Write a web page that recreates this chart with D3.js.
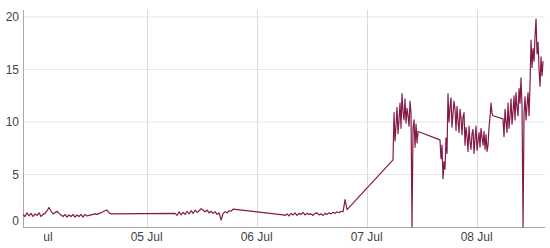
<!DOCTYPE html>
<html>
<head>
<meta charset="utf-8">
<script src="https://cdn.jsdelivr.net/npm/d3@7"></script>
<style>
  body { margin: 0; background: #fff; }
  svg { display: block; font-family: "Liberation Sans", Arial, sans-serif; }
</style>
</head>
<body>
<svg id="chart" width="550" height="248"></svg>
<script>
'use strict';

// sampled readings, hours are counted from 04 Jul 00:00
var segStartHours = [-2.99, 30.19, 53.74, 77.74, 87.99, 101.74];
var segStepMinutes = [26.2, 26.2, 26.2, 13.1, 13.1, 13.1];

var seg04Jul = [1.2, 1.0, 1.35, 1.05, 1.3, 1.0, 1.25, 1.1, 1.35, 1.0, 1.2,
  1.3, 1.55, 1.85, 1.5, 1.25, 1.35, 1.5, 1.3, 1.15,
  1.0, 1.2, 0.95, 1.15, 1.0, 1.2, 0.95, 1.15, 1.0, 1.2, 0.95, 1.2, 1.05,
  1.1, 1.15, 1.2, 1.25, 1.2, 1.3, 1.35, 1.45, 1.55, 1.6, 1.35, 1.25];
var seg05Jul = [1.3, 1.1, 1.45, 1.15, 1.4, 1.2, 1.5, 1.25, 1.55, 1.3, 1.6, 1.4,
  1.55, 1.75, 1.6, 1.45, 1.6, 1.35, 1.5, 1.3, 1.45, 1.2, 1.35, 0.65, 1.3, 1.45,
  1.35, 1.55, 1.5, 1.7];
var seg06Jul = [1.15, 1.1, 1.25, 1.05, 1.3, 1.15, 1.35, 1.1, 1.3, 1.2, 1.4, 1.15,
  1.3, 1.2, 1.25, 1.1, 1.3, 1.35, 1.15, 1.25, 1.1, 1.3, 1.2, 1.35, 1.25, 1.4,
  1.3, 1.45, 1.35, 1.5, 1.45, 2.6, 1.65];
var seg07Jul = [6.4, 10.9, 8.2, 9.6, 11.4, 8.9, 10.2, 11.8, 9.4, 12.7, 11.0, 10.2,
  12.2, 9.9, 11.3, 10.6, 9.6, 12.0, 10.8, 0, 9.4, 10.2, 7.6, 9.8, 8.0, 9.1];
var seg07JulLate = [8.3, 6.5, 7.8, 4.6, 6.2, 5.5, 8.5, 7.0,
  12.7, 10.0, 11.4, 12.3, 9.5, 10.8, 12.0, 11.2, 9.2, 11.5, 10.1, 9.0, 11.2,
  10.4, 8.8, 10.5, 10.9,
  7.8, 9.5, 8.6, 7.2, 9.6, 8.1, 7.4, 8.9, 9.3, 7.0, 8.4, 9.6, 7.3, 8.2, 9.0,
  7.6, 9.4, 8.5, 7.8, 9.1, 7.4, 8.8, 7.2,
  7.8, 9.5, 10.5, 11.8, 10.8, 10.6];
var seg08Jul = [10.3, 8.6, 11.2, 10.0, 9.0, 11.8, 9.4, 10.6, 12.2, 9.8,
  11.0, 12.5, 10.2, 12.8, 11.4, 10.6, 13.2, 11.8, 14.2, 11.5,
  0, 10.8, 12.4, 10.2, 11.6, 12.8, 10.6, 13.6,
  17.8, 15.2, 17.0, 15.8, 18.2, 19.8, 16.5, 17.6, 15.0, 13.4, 16.2, 14.4, 15.8];

var yTicks = [0, 5, 10, 15, 20];
var dayTicks = ['2021-07-04', '2021-07-05', '2021-07-06', '2021-07-07', '2021-07-08'];

var segments = [seg04Jul, seg05Jul, seg06Jul, seg07Jul, seg07JulLate, seg08Jul];
var base = Date.UTC(2021, 6, 4);
var points = [];
segments.forEach(function(vals, s) {
  vals.forEach(function(v, i) {
    var hrs = segStartHours[s] + i * segStepMinutes[s] / 60;
    points.push({ t: new Date(base + hrs * 3600e3), v: v });
  });
});

var plotLeft = 23, plotRight = 545, plotTop = 10, plotBottom = 227;
var svg = d3.select('#chart');

var x = d3.scaleUtc()
  .domain([new Date(base - 2.99 * 3600e3), new Date(base + 110.9 * 3600e3)])
  .range([plotLeft, plotRight]);
var y = d3.scaleLinear().domain([0, 20.67]).range([plotBottom, plotTop]);

// horizontal grid
svg.append('g').selectAll('line')
  .data(yTicks.filter(function(d) { return d > 0; }))
  .join('line')
  .attr('x1', plotLeft).attr('x2', plotRight)
  .attr('y1', function(d) { return y(d); }).attr('y2', function(d) { return y(d); })
  .attr('stroke', '#e6e6e6').attr('stroke-width', 1);

// vertical grid (first day sits off the visible part)
var days = dayTicks.map(function(d) { return new Date(d + 'T00:00:00Z'); });
svg.append('g').selectAll('line')
  .data(days.slice(1))
  .join('line')
  .attr('x1', function(d) { return Math.round(x(d)) + 0.5; })
  .attr('x2', function(d) { return Math.round(x(d)) + 0.5; })
  .attr('y1', plotTop).attr('y2', plotBottom)
  .attr('stroke', '#dadada').attr('stroke-width', 1);

// axes lines
svg.append('line').attr('x1', plotLeft + 0.5).attr('x2', plotLeft + 0.5)
  .attr('y1', plotTop).attr('y2', plotBottom + 0.5)
  .attr('stroke', '#a8a8a8');
svg.append('line').attr('x1', plotLeft).attr('x2', plotRight)
  .attr('y1', plotBottom + 0.5).attr('y2', plotBottom + 0.5)
  .attr('stroke', '#a8a8a8');

// y labels
svg.append('g').selectAll('text')
  .data(yTicks)
  .join('text')
  .attr('x', 19)
  .attr('y', function(d) { return d === 0 ? y(d) - 6 : y(d); })
  .attr('dy', '0.35em')
  .attr('text-anchor', 'end')
  .attr('font-size', 12)
  .attr('fill', '#444')
  .text(function(d) { return d; });

// x labels, clipped on the left like the original
svg.append('clipPath').attr('id', 'xlab')
  .append('rect').attr('x', 44).attr('y', 228).attr('width', 510).attr('height', 20);
svg.append('g').attr('clip-path', 'url(#xlab)').selectAll('text')
  .data(days)
  .join('text')
  .attr('x', function(d) { return x(d); })
  .attr('y', 241)
  .attr('text-anchor', 'middle')
  .attr('font-size', 12)
  .attr('fill', '#444')
  .text(d3.utcFormat('%d %b'));

// data line
svg.append('clipPath').attr('id', 'plot')
  .append('rect').attr('x', plotLeft).attr('y', plotTop - 2)
  .attr('width', plotRight - plotLeft).attr('height', plotBottom - plotTop + 4);

var line = d3.line()
  .x(function(d) { return x(d.t); })
  .y(function(d) { return y(d.v); });

svg.append('path')
  .datum(points)
  .attr('clip-path', 'url(#plot)')
  .attr('d', line)
  .attr('fill', 'none')
  .attr('stroke', '#841a48')
  .attr('stroke-width', 1.2)
  .attr('stroke-linejoin', 'round');
</script>
</body>
</html>
